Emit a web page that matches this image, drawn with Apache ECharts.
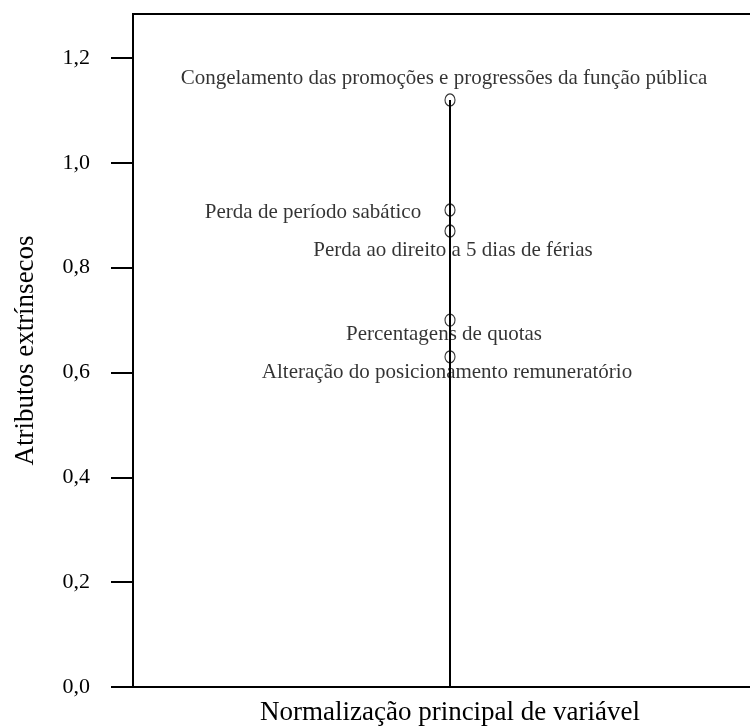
<!DOCTYPE html>
<html>
<head>
<meta charset="utf-8">
<script src="https://cdn.jsdelivr.net/npm/echarts@6/dist/echarts.min.js"></script>
<style>
  html, body { margin: 0; padding: 0; background: #fff; }
  #container { width: 750px; height: 726px; }
</style>
</head>
<body>
<div id="container"></div>
<script>
// atributos extrínsecos (normalização principal de variável)
var categories = [
    'Congelamento das promoções e progressões da função pública',
    'Perda de período sabático',
    'Perda ao direito a 5 dias de férias',
    'Percentagens de quotas',
    'Alteração do posicionamento remuneratório'
];
var xValues = [0, 0, 0, 0, 0];
var yValues = [1.12, 0.91, 0.87, 0.70, 0.63];
var yTicks = [0, 0.2, 0.4, 0.6, 0.8, 1.0, 1.2];

// where each label sits relative to its point (px)
var labelOffsets = [[-6, -21], [-137, 2], [3, 19], [-6, 14], [-3, 16]];

var dom = document.getElementById('container');
var myChart = echarts.init(dom);
var font = '"Liberation Serif", "Times New Roman", serif';

var points = categories.map(function (name, i) {
    return {
        name: name,
        value: [xValues[i], yValues[i]],
        label: { offset: labelOffsets[i] }
    };
});

var stemTop = Math.max.apply(null, yValues);

option = {
    backgroundColor: '#fff',
    animation: false,
    textStyle: { fontFamily: font, color: '#000' },
    grid: {
        left: 133,
        right: -17,
        top: 14,
        bottom: 39,
        outerBoundsMode: 'none',
        containLabel: false,
        show: true,
        borderColor: '#000',
        borderWidth: 2
    },
    xAxis: {
        type: 'value',
        min: -1,
        max: 1,
        name: 'Normalização principal de variável',
        nameLocation: 'middle',
        nameGap: 12,
        nameTextStyle: { fontFamily: font, fontSize: 27, color: '#000', verticalAlign: 'top' },
        axisLine: { show: true, onZero: false, lineStyle: { color: '#000', width: 2 } },
        axisTick: { show: false },
        axisLabel: { show: false },
        splitLine: { show: false }
    },
    yAxis: {
        type: 'value',
        min: 0,
        max: 1.284,
        name: 'Atributos extrínsecos',
        nameLocation: 'middle',
        nameGap: 94,
        nameTextStyle: { fontFamily: font, fontSize: 27, color: '#000' },
        axisLine: { show: true, onZero: false, lineStyle: { color: '#000', width: 2 } },
        axisTick: { show: true, inside: false, length: 22, customValues: yTicks, lineStyle: { color: '#000', width: 2 } },
        axisLabel: {
            margin: 43,
            customValues: yTicks,
            fontFamily: font,
            fontSize: 22,
            color: '#000',
            formatter: function (v) { return v.toFixed(1).replace('.', ','); }
        },
        splitLine: { show: false }
    },
    series: [
        {
            type: 'line',
            data: [[0, 0], [0, stemTop]],
            symbol: 'none',
            lineStyle: { color: '#000', width: 2 },
            z: 1
        },
        {
            type: 'scatter',
            data: points,
            symbol: 'circle',
            symbolSize: [10, 12],
            itemStyle: { color: 'rgba(0,0,0,0)', borderColor: '#000', borderWidth: 1.2 },
            label: {
                show: true,
                position: 'inside',
                formatter: '{b}',
                fontFamily: font,
                fontSize: 21,
                color: '#000',
                textBorderWidth: 0
            },
            emphasis: { disabled: true },
            z: 2
        }
    ]
};

if (option && typeof option === "object") {
    myChart.setOption(option, true);
}
</script>
</body>
</html>
